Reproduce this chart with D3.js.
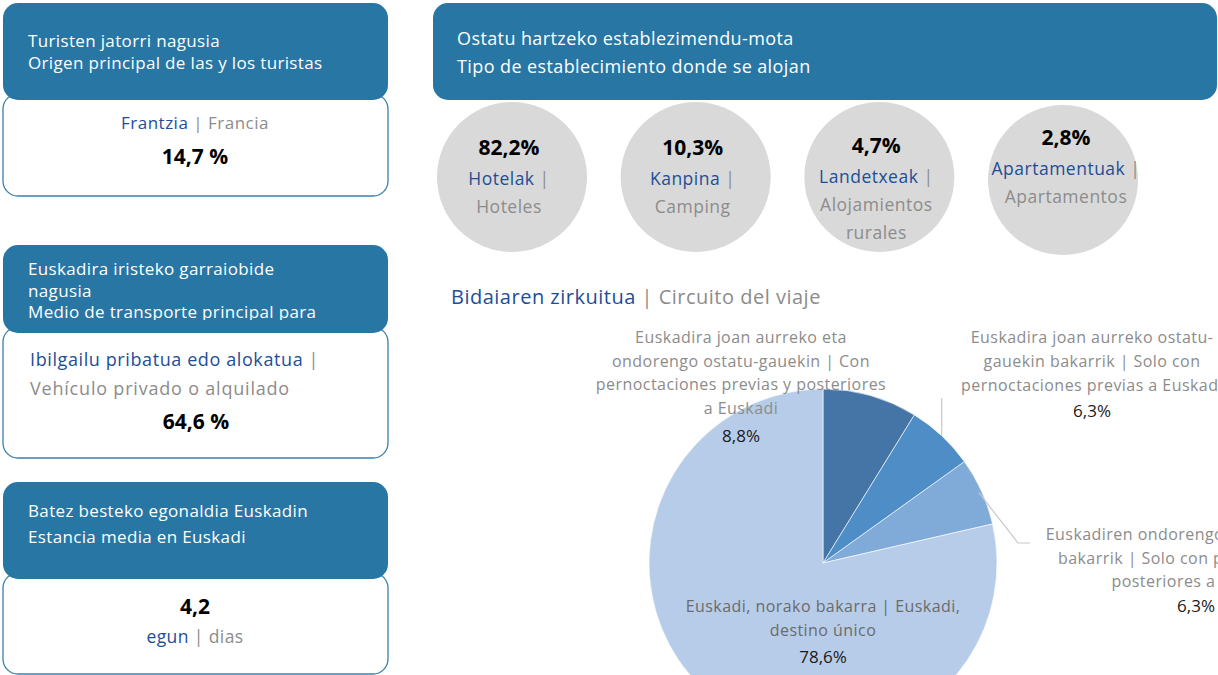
<!DOCTYPE html>
<html><head><meta charset="utf-8">
<script src="https://cdn.jsdelivr.net/npm/d3@7"></script>
<style>
html,body{margin:0;padding:0;background:#fff;}
svg{display:block;font-family:"Open Sans","Noto Sans",sans-serif;}
</style></head>
<body>
<svg id="c" width="1218" height="675"></svg>
<script>
// ---------- data ----------
const cardTitles = [
  ["Turisten jatorri nagusia", "Origen principal de las y los turistas"],
  ["Euskadira iristeko garraiobide", "nagusia", "Medio de transporte principal para"],
  ["Batez besteko egonaldia Euskadin", "Estancia media en Euskadi"]
];
const originEu = "Frantzia", originEs = "Francia", originValue = "14,7 %";
const transportEu = "Ibilgailu pribatua edo alokatua", transportEs = "Vehículo privado o alquilado", transportValue = "64,6 %";
const stayValue = "4,2", stayEu = "egun", stayEs = "dias";

const estTitle = ["Ostatu hartzeko establezimendu-mota", "Tipo de establecimiento donde se alojan"];
const estCategories = ["hotel", "camping", "rural", "apart"];
const estValues = ["82,2%", "10,3%", "4,7%", "2,8%"];
const estEu = ["Hotelak", "Kanpina", "Landetxeak", "Apartamentuak"];
const estEs = [["Hoteles"], ["Camping"], ["Alojamientos", "rurales"], ["Apartamentos"]];

const circuitTitleEu = "Bidaiaren zirkuitua", circuitTitleEs = "Circuito del viaje";
const circuitValues = [8.8, 6.3, 6.3, 78.6];
const circuitValueLabels = ["8,8%", "6,3%", "6,3%", "78,6%"];
const circuitLabels = [
  ["Euskadira joan aurreko eta", "ondorengo ostatu-gauekin | Con", "pernoctaciones previas y posteriores", "a Euskadi"],
  ["Euskadira joan aurreko ostatu-", "gauekin bakarrik | Solo con", "pernoctaciones previas a Euskadi"],
  ["Euskadiren ondorengo ostatu-gauekin", "bakarrik | Solo con pernoctaciones", "posteriores a Euskadi"],
  ["Euskadi, norako bakarra | Euskadi,", "destino único"]
];

// ---------- styles ----------
const HEAD = "#2776a4", BLUE = "#1d4e96", GREY = "#8c8c8c", CIRC = "#d9d9d9";
const pieColors = ["#4575a6", "#4f8dc6", "#80abd9", "#b7cce8"];

const svg = d3.select("#c");
const defs = svg.append("defs");

function txt(sel, x, y, size, ls, anchor) {
  return sel.append("text").attr("x", x).attr("y", y).attr("font-size", size)
    .attr("letter-spacing", ls || 0).attr("text-anchor", anchor || "start");
}

// ---------- left cards ----------
const cards = [
  {hy: 3, hh: 97, by: 94, bh: 102},
  {hy: 245, hh: 88, by: 327, bh: 131},
  {hy: 482, hh: 97, by: 573, bh: 101}
];
const cardX = 3, cardW = 385;
cards.forEach((c, i) => {
  svg.append("rect").attr("x", cardX).attr("y", c.by).attr("width", cardW).attr("height", c.bh)
    .attr("rx", 15).attr("fill", "#fff").attr("stroke", "#3a7fae").attr("stroke-width", 1.3);
  svg.append("rect").attr("x", cardX).attr("y", c.hy).attr("width", cardW).attr("height", c.hh)
    .attr("rx", 15).attr("fill", HEAD);
  defs.append("clipPath").attr("id", "hc" + i).append("rect")
    .attr("x", cardX).attr("y", c.hy).attr("width", cardW).attr("height", c.hh - 13);
  const lines = cardTitles[i];
  const lh = i === 1 ? 21.5 : (i === 0 ? 22 : 26);
  const y0 = i === 1 ? 275 : (i === 0 ? 47 : 517);
  const g = svg.append("g").attr("clip-path", `url(#hc${i})`);
  lines.forEach((t, k) => {
    txt(g, 28, y0 + k * lh, 17, 0.35).attr("fill", "#fff").text(t);
  });
});

function bold(x, y, s) {
  svg.append("text").attr("x", x).attr("y", y).attr("text-anchor", "middle")
    .attr("font-size", 21).attr("font-weight", 700).attr("fill", "#000").text(s);
}
// card 1
{
  const t = txt(svg, 195, 129, 17, 0.5, "middle");
  t.append("tspan").attr("fill", BLUE).text(originEu);
  t.append("tspan").attr("fill", GREY).text(" | " + originEs);
  bold(195, 164, originValue);
}
// card 2
{
  const t = txt(svg, 30, 366, 18, 0.6);
  t.append("tspan").attr("fill", BLUE).text(transportEu);
  t.append("tspan").attr("fill", GREY).text(" |");
  txt(svg, 30, 395, 18, 0.8).attr("fill", GREY).text(transportEs);
  bold(196, 429, transportValue);
}
// card 3
bold(195, 614, stayValue);
{
  const t = txt(svg, 195, 643, 17.5, 0.4, "middle");
  t.append("tspan").attr("fill", BLUE).text(stayEu);
  t.append("tspan").attr("fill", GREY).text(" | " + stayEs);
}

// ---------- establishment header ----------
svg.append("rect").attr("x", 433).attr("y", 3).attr("width", 784).attr("height", 97)
  .attr("rx", 15).attr("fill", HEAD);
estTitle.forEach((t, k) => txt(svg, 457, 45 + k * 28, 18, 0.4).attr("fill", "#fff").text(t));

// ---------- circles ----------
const xc = d3.scalePoint().domain(estCategories).range([512, 1063]);
const cy = 177, cr = 75;
estCategories.forEach((c, i) => {
  const x = xc(c);
  const off = i === 3 ? 3 : 0;
  svg.append("circle").attr("cx", x).attr("cy", cy + off).attr("r", cr).attr("fill", CIRC);
  const top = i === 3 ? 145 : (i === 2 ? 153 : 155);
  const tx = i === 3 ? x + 3 : x - 3;
  bold(tx, top, estValues[i]);
  const t = txt(svg, tx, top + 30, 17.5, 0.5, "middle");
  t.append("tspan").attr("fill", BLUE).text(estEu[i]);
  t.append("tspan").attr("fill", GREY).text(" |");
  estEs[i].forEach((s, k) => txt(svg, tx, top + 58 + k * 28, 17.5, 0.5, "middle").attr("fill", GREY).text(s));
});

// ---------- circuit pie ----------
{
  const t = txt(svg, 451, 304, 20, 0.5);
  t.append("tspan").attr("fill", BLUE).text(circuitTitleEu);
  t.append("tspan").attr("fill", GREY).text(" | " + circuitTitleEs);
}
const pcx = 823, pcy = 563, pr = 174;
const pie = d3.pie().sort(null).value(d => d)(circuitValues);
const arc = d3.arc().innerRadius(0).outerRadius(pr);
const pg = svg.append("g").attr("transform", `translate(${pcx},${pcy})`);
pg.selectAll("path").data(pie).join("path").attr("d", arc)
  .attr("fill", (d, i) => pieColors[i]).attr("stroke", "#fff").attr("stroke-width", 0.6);

// leader lines
const outerPt = (d, r) => { const a = (d.startAngle + d.endAngle) / 2; return [pcx + r * Math.sin(a), pcy - r * Math.cos(a)]; };
{
  const p = outerPt(pie[1], pr);
  svg.append("polyline").attr("points", `${p[0]},${p[1]} ${p[0]},398`)
    .attr("fill", "none").attr("stroke", "#c8c8c8").attr("stroke-width", 1.2);
  const q = outerPt(pie[2], pr - 3);
  svg.append("polyline").attr("points", `${q[0]},${q[1]} 1018,543 1030,543`)
    .attr("fill", "none").attr("stroke", "#c8c8c8").attr("stroke-width", 1.2);
}
// labels
const labelPos = [
  {x: 741, y: 343, lh: 23.5, vgap: 28, col: GREY},
  {x: 1092, y: 343, lh: 24, vgap: 26, col: GREY},
  {x: 1196, y: 540, lh: 23.5, vgap: 25, col: GREY},
  {x: 823, y: 612, lh: 23.5, vgap: 27, col: "#6b6b6b"}
];
circuitLabels.forEach((lines, i) => {
  const L = labelPos[i];
  lines.forEach((s, k) => txt(svg, L.x, L.y + k * L.lh, 16, 0.45, "middle").attr("fill", L.col).text(s));
  svg.append("text").attr("x", L.x).attr("y", L.y + (lines.length - 1) * L.lh + L.vgap)
    .attr("text-anchor", "middle").attr("font-size", 17).attr("fill", "#1a1a1a").text(circuitValueLabels[i]);
});
</script>
</body></html>
